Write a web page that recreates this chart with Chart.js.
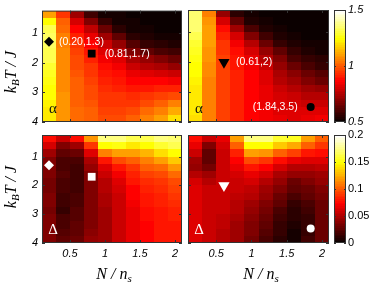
<!DOCTYPE html>
<html>
<head>
<meta charset="utf-8">
<script src="https://cdn.jsdelivr.net/npm/chart.js@4/dist/chart.umd.min.js"></script>
<style>
    body { margin: 0; background: #fff; width: 374px; height: 284px; overflow: hidden; position: relative; }
    canvas { position: absolute; left: 0; top: 0; }
</style>
</head>
<body>
<canvas id="alphaL" width="374" height="284"></canvas>
<canvas id="alphaR" width="374" height="284"></canvas>
<canvas id="deltaL" width="374" height="284"></canvas>
<canvas id="deltaR" width="374" height="284"></canvas>
<canvas id="barA" width="374" height="284"></canvas>
<canvas id="barD" width="374" height="284"></canvas>
<script>
// N/n_s columns and k_B T/J rows of the maps
const nRatio = [0.2, 0.4, 0.6, 0.8, 1.0, 1.2, 1.4, 1.6, 1.8, 2.0]
const temperature = [0.375, 0.625, 0.875, 1.125, 1.375, 1.625, 1.875, 2.125, 2.375, 2.625, 2.875, 3.125, 3.375, 3.625, 3.875]
const xTicks = [0.5, 1, 1.5, 2]
const yTicks = [1, 2, 3, 4]
const alphaTicks = [0.5, 1, 1.5]
const deltaTicks = [0, 0.05, 0.1, 0.15, 0.2]

// one inner array per N/n_s column, top (low T) to bottom
const alphaLeft = [
    [1.10, 1.25, 1.32, 1.34, 1.34, 1.33, 1.32, 1.30, 1.28, 1.26, 1.25, 1.24, 1.23, 1.22, 1.22],
    [0.95, 1.00, 1.03, 1.05, 1.06, 1.07, 1.07, 1.07, 1.07, 1.07, 1.07, 1.08, 1.08, 1.08, 1.08],
    [0.72, 0.80, 0.87, 0.92, 0.95, 0.96, 0.97, 0.98, 0.99, 1.00, 1.00, 1.01, 1.01, 1.02, 1.02],
    [0.58, 0.68, 0.77, 0.83, 0.87, 0.90, 0.92, 0.94, 0.95, 0.96, 0.97, 0.98, 0.99, 1.00, 1.00],
    [0.52, 0.56, 0.64, 0.72, 0.78, 0.82, 0.85, 0.88, 0.90, 0.92, 0.93, 0.94, 0.95, 0.96, 0.97],
    [0.51, 0.52, 0.55, 0.62, 0.70, 0.76, 0.81, 0.85, 0.88, 0.90, 0.92, 0.94, 0.95, 0.96, 0.98],
    [0.50, 0.51, 0.52, 0.55, 0.61, 0.68, 0.74, 0.79, 0.83, 0.87, 0.90, 0.93, 0.95, 0.97, 1.00],
    [0.50, 0.50, 0.51, 0.53, 0.57, 0.63, 0.70, 0.76, 0.81, 0.86, 0.90, 0.94, 0.98, 1.02, 1.05],
    [0.50, 0.50, 0.50, 0.52, 0.55, 0.60, 0.67, 0.74, 0.80, 0.86, 0.91, 0.96, 1.00, 1.05, 1.10],
    [0.50, 0.50, 0.50, 0.51, 0.53, 0.58, 0.64, 0.71, 0.78, 0.85, 0.92, 0.98, 1.05, 1.12, 1.20]
]
const alphaRight = [
    [1.35, 1.36, 1.35, 1.33, 1.30, 1.28, 1.26, 1.25, 1.24, 1.23, 1.22, 1.22, 1.21, 1.21, 1.20],
    [1.05, 1.08, 1.10, 1.10, 1.10, 1.09, 1.08, 1.07, 1.07, 1.06, 1.06, 1.05, 1.05, 1.05, 1.05],
    [0.70, 0.80, 0.88, 0.92, 0.94, 0.95, 0.96, 0.96, 0.96, 0.96, 0.96, 0.96, 0.96, 0.96, 0.96],
    [0.55, 0.62, 0.72, 0.80, 0.85, 0.88, 0.90, 0.90, 0.91, 0.91, 0.91, 0.91, 0.91, 0.91, 0.91],
    [0.51, 0.53, 0.60, 0.68, 0.75, 0.80, 0.83, 0.85, 0.86, 0.86, 0.87, 0.87, 0.87, 0.87, 0.87],
    [0.50, 0.51, 0.53, 0.58, 0.65, 0.71, 0.76, 0.79, 0.81, 0.82, 0.83, 0.84, 0.84, 0.85, 0.85],
    [0.50, 0.50, 0.51, 0.53, 0.57, 0.62, 0.67, 0.71, 0.74, 0.76, 0.78, 0.80, 0.81, 0.82, 0.83],
    [0.50, 0.50, 0.50, 0.51, 0.53, 0.56, 0.60, 0.65, 0.69, 0.72, 0.75, 0.78, 0.80, 0.81, 0.82],
    [0.50, 0.50, 0.50, 0.50, 0.51, 0.53, 0.56, 0.60, 0.64, 0.68, 0.72, 0.76, 0.79, 0.81, 0.83],
    [0.50, 0.50, 0.50, 0.50, 0.51, 0.52, 0.54, 0.57, 0.61, 0.65, 0.70, 0.75, 0.79, 0.82, 0.85]
]
const deltaLeft = [
    [0.076, 0.060, 0.044, 0.036, 0.034, 0.034, 0.032, 0.032, 0.034, 0.034, 0.032, 0.034, 0.034, 0.034, 0.034],
    [0.056, 0.036, 0.026, 0.020, 0.020, 0.022, 0.020, 0.018, 0.016, 0.016, 0.014, 0.018, 0.020, 0.022, 0.024],
    [0.076, 0.044, 0.028, 0.020, 0.016, 0.016, 0.016, 0.016, 0.020, 0.020, 0.022, 0.022, 0.024, 0.026, 0.028],
    [0.116, 0.090, 0.064, 0.048, 0.040, 0.036, 0.036, 0.034, 0.034, 0.034, 0.036, 0.036, 0.036, 0.038, 0.040],
    [0.176, 0.150, 0.110, 0.080, 0.064, 0.056, 0.052, 0.050, 0.048, 0.048, 0.046, 0.046, 0.046, 0.046, 0.046],
    [0.176, 0.152, 0.120, 0.094, 0.080, 0.070, 0.064, 0.060, 0.058, 0.056, 0.056, 0.056, 0.056, 0.056, 0.056],
    [0.164, 0.144, 0.120, 0.100, 0.090, 0.082, 0.078, 0.074, 0.072, 0.070, 0.068, 0.068, 0.066, 0.066, 0.066],
    [0.164, 0.148, 0.128, 0.112, 0.100, 0.092, 0.086, 0.082, 0.080, 0.078, 0.076, 0.076, 0.074, 0.074, 0.074],
    [0.176, 0.160, 0.140, 0.120, 0.106, 0.096, 0.090, 0.086, 0.084, 0.082, 0.080, 0.080, 0.078, 0.078, 0.078],
    [0.172, 0.164, 0.150, 0.132, 0.116, 0.104, 0.096, 0.092, 0.088, 0.086, 0.084, 0.082, 0.080, 0.080, 0.080]
]
const deltaRight = [
    [0.076, 0.066, 0.056, 0.044, 0.040, 0.050, 0.060, 0.062, 0.062, 0.062, 0.062, 0.062, 0.062, 0.062, 0.062],
    [0.056, 0.036, 0.024, 0.024, 0.032, 0.044, 0.052, 0.056, 0.058, 0.058, 0.058, 0.058, 0.058, 0.058, 0.058],
    [0.066, 0.060, 0.056, 0.056, 0.056, 0.056, 0.056, 0.056, 0.056, 0.056, 0.056, 0.054, 0.054, 0.052, 0.052],
    [0.120, 0.100, 0.084, 0.072, 0.066, 0.060, 0.058, 0.056, 0.054, 0.052, 0.050, 0.048, 0.046, 0.044, 0.044],
    [0.176, 0.150, 0.120, 0.096, 0.080, 0.068, 0.060, 0.054, 0.050, 0.046, 0.042, 0.038, 0.036, 0.034, 0.032],
    [0.176, 0.150, 0.116, 0.090, 0.072, 0.060, 0.052, 0.044, 0.040, 0.036, 0.032, 0.028, 0.024, 0.022, 0.020],
    [0.160, 0.132, 0.100, 0.076, 0.060, 0.048, 0.040, 0.034, 0.028, 0.024, 0.020, 0.016, 0.014, 0.012, 0.010],
    [0.156, 0.124, 0.092, 0.068, 0.052, 0.040, 0.030, 0.024, 0.018, 0.014, 0.010, 0.008, 0.006, 0.004, 0.004],
    [0.120, 0.100, 0.080, 0.064, 0.052, 0.042, 0.034, 0.028, 0.024, 0.020, 0.016, 0.014, 0.014, 0.014, 0.016],
    [0.100, 0.090, 0.076, 0.064, 0.054, 0.046, 0.040, 0.036, 0.032, 0.030, 0.028, 0.028, 0.028, 0.030, 0.030]
]

// marked points (N/n_s, k_B T/J)
const leftPoints = [{ x: 0.20, y: 1.3 }, { x: 0.81, y: 1.7 }]
const rightPoints = [{ x: 0.61, y: 2 }, { x: 1.84, y: 3.5 }]
const leftNames = ["(0.20,1.3)", "(0.81,1.7)"]
const rightNames = ["(0.61,2)", "(1.84,3.5)"]

const tickFont = { family: "Liberation Sans", size: 11, style: "italic" }

function hot(v, lo, hi) {
    const t = Math.max(0, Math.min(1, (v - lo) / (hi - lo)))
    const k = Math.round(t * 63) + 1
    const r = Math.min(k / 24, 1)
    const g = Math.max(0, Math.min((k - 24) / 24, 1))
    const b = Math.max(0, Math.min((k - 48) / 16, 1))
    return `rgb(${Math.round(r * 255)},${Math.round(g * 255)},${Math.round(b * 255)})`
}

function heatPlugin(values, lo, hi) {
    return {
        id: "heat",
        beforeDatasetsDraw(chart) {
            const { ctx, scales: { x, y } } = chart
            values.forEach((col, i) => {
                const x0 = Math.round(x.getPixelForValue(nRatio[i] - 0.1))
                const x1 = Math.round(x.getPixelForValue(nRatio[i] + 0.1))
                col.forEach((v, j) => {
                    const y0 = Math.round(y.getPixelForValue(temperature[j] - 0.125))
                    const y1 = Math.round(y.getPixelForValue(temperature[j] + 0.125))
                    ctx.fillStyle = hot(v, lo, hi)
                    ctx.fillRect(x0, Math.min(y0, y1), x1 - x0, Math.abs(y1 - y0))
                })
            })
        }
    }
}

function framePlugin(extra) {
    return {
        id: "frame",
        afterDraw(chart) {
            const { ctx, chartArea: a, scales: { x, y } } = chart
            ctx.save()
            ctx.strokeStyle = "#333"
            ctx.lineWidth = 1
            ctx.beginPath()
            xTicks.forEach(v => {
                const px = Math.round(x.getPixelForValue(v)) + 0.5
                ctx.moveTo(px, a.top); ctx.lineTo(px, a.top + 3)
                ctx.moveTo(px, a.bottom); ctx.lineTo(px, a.bottom - 3)
            })
            yTicks.forEach(v => {
                const py = Math.round(y.getPixelForValue(v)) + 0.5
                ctx.moveTo(a.left, py); ctx.lineTo(a.left + 3, py)
                ctx.moveTo(a.right, py); ctx.lineTo(a.right - 3, py)
            })
            ctx.stroke()
            ctx.strokeRect(a.left + 0.5, a.top + 0.5, a.width - 1, a.height - 1)
            ctx.restore()
            if (extra) extra(chart)
        }
    }
}

function drawRotatedTitle(ctx, cx, cy) {
    // k_B T / J, reading upwards
    ctx.save()
    ctx.translate(cx, cy)
    ctx.rotate(-Math.PI / 2)
    ctx.fillStyle = "#000"
    ctx.textBaseline = "middle"
    ctx.textAlign = "left"
    const big = "italic 16px 'Liberation Serif'"
    const small = "italic 11px 'Liberation Serif'"
    ctx.font = big; const wk = ctx.measureText("k").width
    ctx.font = small; const wb = ctx.measureText("B").width
    ctx.font = big; const wr = ctx.measureText("T / J").width
    let px = -(wk + wb + wr) / 2
    ctx.font = big; ctx.fillText("k", px, 0); px += wk
    ctx.font = small; ctx.fillText("B", px, 4); px += wb
    ctx.font = big; ctx.fillText("T / J", px, 0)
    ctx.restore()
}

function drawXTitle(ctx, cx, cy) {
    ctx.save()
    ctx.fillStyle = "#000"
    ctx.textBaseline = "middle"
    ctx.textAlign = "left"
    const big = "italic 16px 'Liberation Serif'"
    const small = "italic 11px 'Liberation Serif'"
    ctx.font = big; const wm = ctx.measureText("N / n").width
    ctx.font = small; const ws = ctx.measureText("s").width
    let px = cx - (wm + ws) / 2
    ctx.font = big; ctx.fillText("N / n", px, cy)
    ctx.font = small; ctx.fillText("s", px + wm, cy + 4)
    ctx.restore()
}

function panel(id, values, lo, hi, box, opts) {
    const yW = opts.showY ? 20 : 0
    const xH = opts.showX ? 24 : 0
    const labelPlugin = {
        id: "labels",
        afterDatasetsDraw(chart) {
            const { ctx, chartArea: a, scales: { x, y } } = chart
            ctx.save()
            ctx.font = "10.5px 'Liberation Sans'"
            ctx.fillStyle = "#fff"
            ctx.textBaseline = "middle"
            if (opts.names) {
                opts.points.forEach((p, i) => {
                    const off = opts.offsets[i]
                    ctx.textAlign = off < 0 ? "right" : "left"
                    ctx.fillText(opts.names[i], x.getPixelForValue(p.x) + off, y.getPixelForValue(p.y))
                })
            }
            ctx.font = "15px 'Liberation Serif'"
            ctx.textAlign = "center"
            ctx.fillStyle = opts.tagColor
            ctx.fillText(opts.tag, a.left + 11, a.bottom - 13)
            ctx.restore()
        }
    }
    const extra = chart => {
        const { ctx } = chart
        if (opts.showY) drawRotatedTitle(ctx, 12, opts.yTitleY)
        if (opts.showX) drawXTitle(ctx, opts.xTitleX, 275)
    }
    return new Chart(document.getElementById(id), {
        type: "scatter",
        data: {
            datasets: [{
                data: opts.points,
                pointStyle: opts.styles,
                rotation: opts.rotations,
                pointRadius: opts.radii,
                pointHoverRadius: opts.radii,
                backgroundColor: opts.markColor,
                borderColor: opts.markColor,
                borderWidth: 0
            }]
        },
        options: {
            responsive: false,
            animation: false,
            events: [],
            layout: {
                padding: { left: box.l - yW, top: box.t, right: 374 - box.r, bottom: 284 - box.b - xH }
            },
            plugins: { legend: { display: false }, tooltip: { enabled: false } },
            scales: {
                x: {
                    type: "linear", min: 0.1, max: 2.1,
                    display: opts.showX,
                    grid: { display: false, drawTicks: false },
                    border: { display: false },
                    afterBuildTicks: s => { s.ticks = xTicks.map(v => ({ value: v })) },
                    afterFit: s => { s.height = xH },
                    ticks: { font: tickFont, color: "#000", padding: 4, callback: v => String(v), maxRotation: 0 }
                },
                y: {
                    type: "linear", min: 0.25, max: 4, reverse: true,
                    display: opts.showY,
                    grid: { display: false, drawTicks: false },
                    border: { display: false },
                    afterBuildTicks: s => { s.ticks = yTicks.map(v => ({ value: v })) },
                    afterFit: s => { s.width = yW },
                    ticks: { font: tickFont, color: "#000", padding: 4, callback: v => String(v) }
                }
            }
        },
        plugins: [heatPlugin(values, lo, hi), labelPlugin, framePlugin(extra)]
    })
}

function colorBar(id, lo, hi, ticks, box, italic) {
    const steps = 64
    const barPlugin = {
        id: "bar",
        beforeDatasetsDraw(chart) {
            const { ctx, chartArea: a, scales: { y } } = chart
            for (let k = 0; k < steps; k++) {
                const v0 = lo + (hi - lo) * k / steps
                const v1 = lo + (hi - lo) * (k + 1) / steps
                const y0 = Math.round(y.getPixelForValue(v0))
                const y1 = Math.round(y.getPixelForValue(v1))
                ctx.fillStyle = hot((v0 + v1) / 2, lo, hi)
                ctx.fillRect(a.left, y1, a.width, y0 - y1)
            }
            ctx.save()
            ctx.strokeStyle = "#333"
            ctx.beginPath()
            ticks.forEach(v => {
                const py = Math.round(y.getPixelForValue(v)) + 0.5
                ctx.moveTo(a.left, py); ctx.lineTo(a.left + 2, py)
                ctx.moveTo(a.right, py); ctx.lineTo(a.right - 2, py)
            })
            ctx.stroke()
            ctx.strokeRect(a.left + 0.5, a.top + 0.5, a.width - 1, a.height - 1)
            ctx.restore()
        }
    }
    return new Chart(document.getElementById(id), {
        type: "scatter",
        data: { datasets: [] },
        options: {
            responsive: false,
            animation: false,
            events: [],
            layout: { padding: { left: box.l, top: box.t, right: 374 - box.r - 28, bottom: 284 - box.b } },
            plugins: { legend: { display: false }, tooltip: { enabled: false } },
            scales: {
                x: { type: "linear", min: 0, max: 1, display: false },
                y: {
                    type: "linear", position: "right", min: lo, max: hi,
                    grid: { display: false, drawTicks: false },
                    border: { display: false },
                    afterBuildTicks: s => { s.ticks = ticks.map(v => ({ value: v })) },
                    afterFit: s => { s.width = 28 },
                    ticks: {
                        font: { family: "Liberation Sans", size: 11, style: italic ? "italic" : "normal" },
                        color: "#000", padding: 2, callback: v => String(v)
                    }
                }
            }
        },
        plugins: [barPlugin]
    })
}

panel("alphaL", alphaLeft, 0.5, 1.5, { l: 42, t: 10, r: 182, b: 122 }, {
    showY: true, showX: false, yTitleY: 72, points: leftPoints, names: leftNames, offsets: [10, 13],
    styles: ["rectRot", "rect"], rotations: [0, 0], radii: [5, 5.5], markColor: "#000",
    tag: "α", tagColor: "#111"
})
panel("alphaR", alphaRight, 0.5, 1.5, { l: 188, t: 10, r: 329, b: 122 }, {
    showY: false, showX: false, points: rightPoints, names: rightNames, offsets: [12, -13],
    styles: ["triangle", "circle"], rotations: [180, 0], radii: [6.5, 4], markColor: "#000",
    tag: "α", tagColor: "#111"
})
panel("deltaL", deltaLeft, 0, 0.2, { l: 42, t: 135, r: 182, b: 243 }, {
    showY: true, showX: true, yTitleY: 187, xTitleX: 114, points: leftPoints, names: null,
    styles: ["rectRot", "rect"], rotations: [0, 0], radii: [5, 5.5], markColor: "#fff",
    tag: "Δ", tagColor: "#fff"
})
panel("deltaR", deltaRight, 0, 0.2, { l: 188, t: 135, r: 329, b: 243 }, {
    showY: false, showX: true, xTitleX: 261, points: rightPoints, names: null,
    styles: ["triangle", "circle"], rotations: [180, 0], radii: [6.5, 4], markColor: "#fff",
    tag: "Δ", tagColor: "#fff"
})
colorBar("barA", 0.5, 1.5, alphaTicks, { l: 334, t: 10, r: 346, b: 122 }, true)
colorBar("barD", 0, 0.2, deltaTicks, { l: 334, t: 135, r: 346, b: 243 }, false)
</script>
</body>
</html>
